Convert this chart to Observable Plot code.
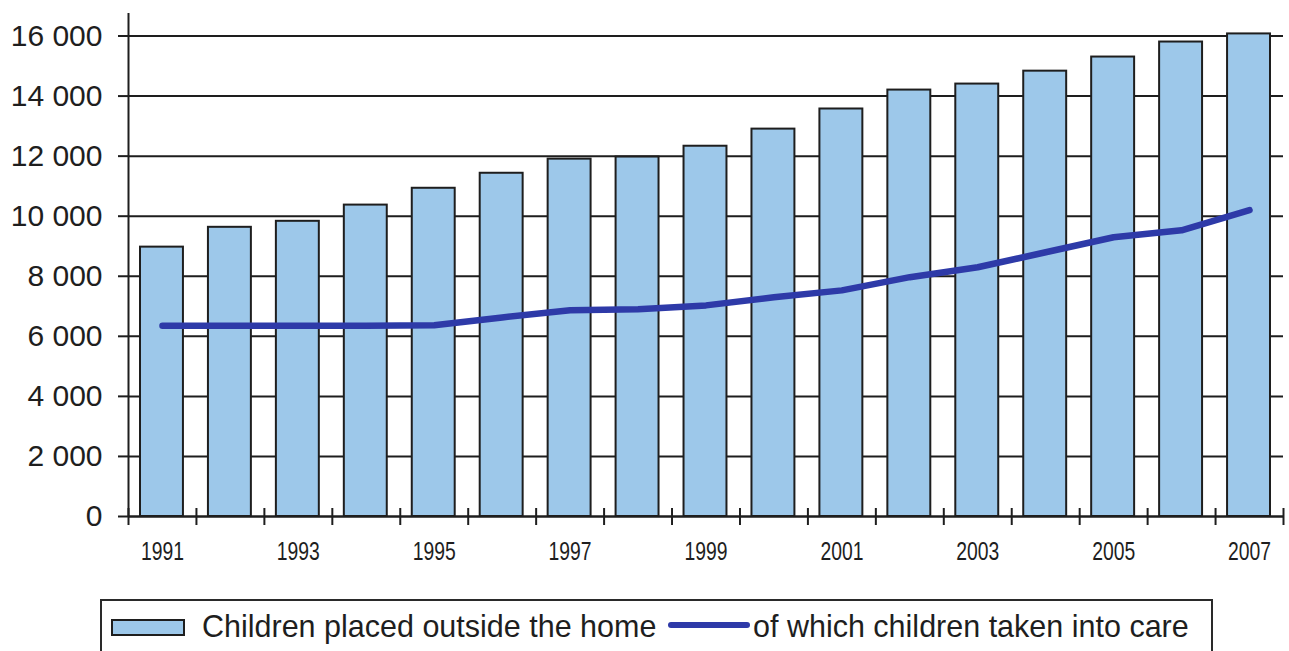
<!DOCTYPE html>
<html>
<head>
<meta charset="utf-8">
<script src="https://cdn.jsdelivr.net/npm/d3@7"></script>
<script src="https://cdn.jsdelivr.net/npm/@observablehq/plot@0.6"></script>
<style>
  body { margin: 0; background: #fff; }
  #wrap { position: relative; width: 1289px; height: 651px; overflow: hidden; background: #fff; font-family: "Liberation Sans", Arial, sans-serif; color: #1e1e1e; }
  #chart { position: absolute; left: 0; top: 0; }
  #legend { position: absolute; left: 100px; top: 599px; width: 1113px; height: 90px; border: 2px solid #2a2a2a; box-sizing: border-box; }
  .sw-rect { position: absolute; left: 111px; top: 619px; width: 74px; height: 17px; border: 2px solid #1e1e1e; box-sizing: border-box; background: #9dc8ea; }
  .sw-line { position: absolute; left: 668px; top: 622px; width: 82px; height: 6px; border-radius: 3px; background: #2e3aa8; }
  .lbl { position: absolute; top: 611px; font-size: 30.5px; line-height: 30px; white-space: nowrap; }
</style>
</head>
<body>
<div id="wrap">
  <div id="chart"></div>
</div>
<script>
// ---- data ----
const years = [1991, 1992, 1993, 1994, 1995, 1996, 1997, 1998, 1999, 2000, 2001, 2002, 2003, 2004, 2005, 2006, 2007];
const placedOutsideHome = [8970, 9630, 9830, 10370, 10930, 11430, 11900, 11970, 12330, 12900, 13570, 14200, 14400, 14830, 15300, 15800, 16070];
const takenIntoCare = [6350, 6350, 6350, 6350, 6370, 6630, 6870, 6900, 7030, 7300, 7530, 7970, 8300, 8800, 9300, 9530, 10200];
const seriesNames = ["Children placed outside the home", "of which children taken into care"];
const yTicks = [0, 2000, 4000, 6000, 8000, 10000, 12000, 14000, 16000];
const xLabelYears = [1991, 1993, 1995, 1997, 1999, 2001, 2003, 2005, 2007];

const data = years.map((year, i) => ({year, placed: placedOutsideHome[i], care: takenIntoCare[i]}));
// band boundaries between years (category separators on the x axis)
const boundaries = [years[0] - 0.5, ...years.map(y => y + 0.5)];

const barFill = "#9dc8ea";
const lineColor = "#2e3aa8";
const ink = "#1e1e1e";
const fmt = d => d3.format(",")(d).replace(/,/g, " ");

const chart = Plot.plot({
  width: 1289,
  height: 580,
  marginLeft: 128,
  marginRight: 6,
  marginTop: 13,
  marginBottom: 64,
  x: {type: "linear", domain: [years[0] - 0.5, years[years.length - 1] + 0.5], label: null},
  y: {domain: [0, 16750], label: null},
  marks: [
    Plot.gridY(yTicks, {stroke: ink, strokeOpacity: 1, strokeWidth: 2}),
    Plot.rectY(data, {
      x1: d => d.year - 0.5, x2: d => d.year + 0.5, y: "placed",
      insetLeft: 12, insetRight: 13,
      fill: barFill, stroke: ink, strokeWidth: 2
    }),
    Plot.line(data, {x: "year", y: "care", stroke: lineColor, strokeWidth: 6.5, strokeLinecap: "round", strokeLinejoin: "round"}),
    Plot.ruleX([boundaries[0]], {stroke: ink, strokeWidth: 2}),
    Plot.ruleY([0], {stroke: ink, strokeWidth: 2}),
    Plot.ruleX(boundaries, {x: d => d, y1: 0, y2: 0, insetTop: -8, insetBottom: -9, stroke: ink, strokeWidth: 2}),
    Plot.axisY(yTicks, {
      tickSize: 10, tickPadding: 16, strokeWidth: 2, stroke: ink, fill: ink,
      tickFormat: fmt, fontSize: 30, fontFamily: "Liberation Sans, Arial, sans-serif"
    }),
    Plot.axisX(xLabelYears, {
      tickSize: 0, tickPadding: 26, fill: ink,
      tickFormat: d => String(d), fontSize: 25,
      fontFamily: "Liberation Sans, Arial, sans-serif"
    })
  ]
});
document.getElementById("chart").appendChild(chart);

// the reference uses a condensed face for the year labels: compress the glyphs
d3.select(chart).selectAll("g[aria-label='x-axis tick label'] text")
  .attr("textLength", 43)
  .attr("lengthAdjust", "spacingAndGlyphs");

// legend built from the series names
const wrap = document.getElementById("wrap");
const legend = document.createElement("div");
legend.id = "legend";
wrap.appendChild(legend);
const sw1 = document.createElement("div"); sw1.className = "sw-rect"; wrap.appendChild(sw1);
const l1 = document.createElement("div"); l1.className = "lbl"; l1.style.left = "202px"; l1.textContent = seriesNames[0]; wrap.appendChild(l1);
const sw2 = document.createElement("div"); sw2.className = "sw-line"; wrap.appendChild(sw2);
const l2 = document.createElement("div"); l2.className = "lbl"; l2.style.left = "753px"; l2.textContent = seriesNames[1]; wrap.appendChild(l2);
</script>
</body>
</html>
